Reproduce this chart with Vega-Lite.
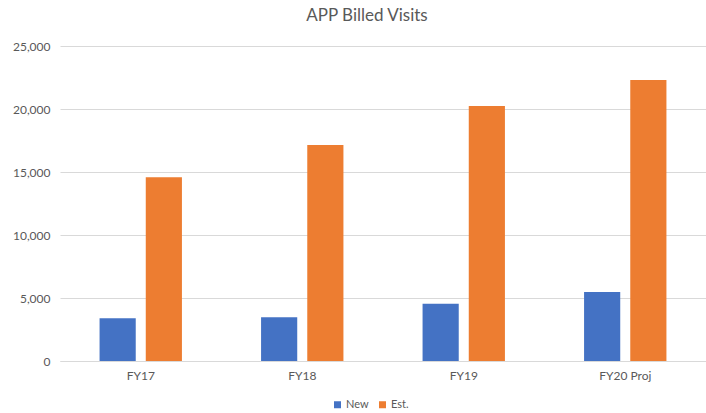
{
  "$schema": "https://vega.github.io/schema/vega-lite/v6.json",
  "width": 646,
  "height": 315,
  "autosize": "none",
  "padding": {"left": 60, "top": 46, "right": 0, "bottom": 52},
  "background": "white",
  "title": {
    "text": "APP Billed Visits",
    "font": "Lato",
    "fontSize": 17,
    "fontWeight": "normal",
    "color": "#595959",
    "anchor": "middle",
    "dx": -16,
    "offset": 15
  },
  "data": {
    "values": [
      {"year": "FY17", "series": "New", "visits": 3390},
      {"year": "FY17", "series": "Est.", "visits": 14580},
      {"year": "FY18", "series": "New", "visits": 3470},
      {"year": "FY18", "series": "Est.", "visits": 17140},
      {"year": "FY19", "series": "New", "visits": 4550},
      {"year": "FY19", "series": "Est.", "visits": 20240},
      {"year": "FY20 Proj", "series": "New", "visits": 5480},
      {"year": "FY20 Proj", "series": "Est.", "visits": 22300}
    ]
  },
  "mark": {"type": "bar"},
  "encoding": {
    "x": {
      "field": "year",
      "type": "nominal",
      "sort": null,
      "title": null,
      "scale": {"paddingInner": 0.49, "paddingOuter": 0.245},
      "axis": {
        "labelAngle": 0,
        "labelFont": "Lato",
        "labelFontSize": 12,
        "labelColor": "#595959",
        "labelPadding": 9,
        "ticks": false,
        "domainColor": "#d9d9d9",
        "domainWidth": 1
      }
    },
    "xOffset": {
      "field": "series",
      "type": "nominal",
      "sort": ["New", "Est."],
      "scale": {"paddingInner": 0.217, "paddingOuter": 0}
    },
    "y": {
      "field": "visits",
      "type": "quantitative",
      "title": null,
      "scale": {"domain": [0, 25000], "nice": false},
      "axis": {
        "values": [0, 5000, 10000, 15000, 20000, 25000],
        "format": ",.0f",
        "labelFont": "Lato",
        "labelFontSize": 12,
        "labelColor": "#595959",
        "labelPadding": 10,
        "ticks": false,
        "domain": false,
        "gridColor": "#d9d9d9",
        "gridWidth": 1
      }
    },
    "color": {
      "field": "series",
      "type": "nominal",
      "sort": ["New", "Est."],
      "scale": {"domain": ["New", "Est."], "range": ["#4472C4", "#ED7D31"]},
      "legend": {
        "title": null,
        "orient": "none",
        "direction": "horizontal",
        "legendX": 272,
        "legendY": 353,
        "symbolType": "square",
        "symbolSize": 49,
        "symbolStrokeWidth": 0,
        "labelFont": "Lato",
        "labelFontSize": 11,
        "labelColor": "#595959",
        "labelOffset": 3,
        "columnPadding": 8
      }
    }
  },
  "config": {
    "view": {"stroke": null}
  }
}
